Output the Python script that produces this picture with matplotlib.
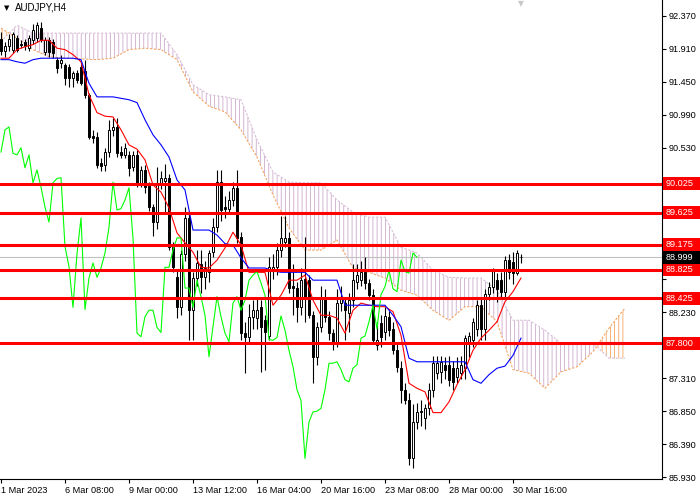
import numpy as np
import matplotlib
matplotlib.use('Agg')
import matplotlib.pyplot as plt
from matplotlib.patches import Rectangle
from matplotlib.transforms import blended_transform_factory

plt.rcParams['font.family'] = ['Liberation Sans', 'DejaVu Sans']
plt.rcParams['hatch.linewidth'] = 0.6

# ---- H4 candles (bar index 0 = 1 Mar 2023) ----
opens = [92.05, 91.88, 91.95, 91.90, 92.06, 91.98, 92.00, 91.92, 92.03, 92.06,
         92.20, 91.87, 92.03, 92.00, 91.76, 91.72, 91.68, 91.66, 91.50, 91.57,
         91.66, 91.60, 91.26, 90.70, 90.68, 90.31, 90.29, 90.47, 90.78, 90.82,
         90.47, 90.43, 90.43, 90.26, 90.43, 90.04, 90.22, 90.00, 89.70, 89.49,
         90.04, 90.06, 90.10, 89.15, 88.72, 88.30, 89.05, 89.55, 88.27, 88.71,
         88.90, 88.72, 88.80, 89.08, 89.42, 90.05, 89.70, 89.68, 89.80, 89.97,
         89.28, 87.94, 87.89, 88.17, 88.15, 88.30, 88.13, 87.90, 88.82, 88.86,
         89.10, 89.22, 89.27, 88.60, 88.57, 88.30, 88.70, 88.68, 88.19, 87.61,
         88.03, 88.45, 88.17, 87.94, 87.82, 88.36, 88.36, 88.22, 88.40, 88.65,
         88.68, 88.80, 88.64, 88.47, 87.78, 88.08, 87.95, 88.17, 88.00, 87.70,
         87.45, 87.15, 87.00, 86.19, 86.70, 86.84, 86.75, 86.89, 87.15, 87.38,
         87.40, 87.49, 87.50, 87.46, 87.33, 87.38, 87.45, 87.80, 87.85, 88.00,
         88.33, 88.00, 88.48, 88.59, 88.68, 88.68, 88.52, 88.96, 88.93, 88.78,
         89.01]
highs = [92.15, 92.00, 92.12, 92.15, 92.10, 92.04, 92.05, 92.10, 92.26, 92.28,
         92.29, 92.08, 92.08, 92.05, 91.80, 91.82, 91.72, 91.70, 91.60, 91.62,
         91.70, 91.76, 91.30, 90.78, 90.75, 90.38, 90.52, 90.92, 90.95, 90.95,
         90.55, 90.60, 90.48, 90.48, 90.50, 90.28, 90.29, 90.05, 89.75, 90.26,
         90.20, 90.30, 90.16, 89.22, 88.83, 89.10, 89.70, 89.62, 88.80, 89.10,
         89.10, 88.95, 89.10, 89.55, 90.22, 90.22, 89.85, 89.92, 90.05, 90.22,
         89.35, 88.10, 88.35, 88.40, 88.45, 88.40, 88.20, 89.00, 89.05, 89.20,
         89.57, 89.57, 89.35, 88.90, 88.65, 88.85, 89.28, 88.75, 88.25, 88.10,
         88.60, 88.55, 88.25, 88.00, 88.55, 88.60, 88.45, 88.50, 88.90, 88.90,
         88.95, 89.00, 88.70, 88.55, 88.10, 88.20, 88.30, 88.25, 88.10, 87.80,
         87.55, 87.25, 87.10, 86.95, 86.97, 87.00, 86.95, 87.25, 87.62, 87.62,
         87.62, 87.60, 87.62, 87.55, 87.60, 87.62, 87.92, 87.95, 88.15, 88.40,
         88.42, 88.55, 88.65, 88.85, 88.78, 88.80, 89.02, 89.05, 89.08, 89.10,
         89.05]
lows = [91.82, 91.80, 91.88, 91.85, 91.86, 91.92, 91.90, 91.88, 91.98, 92.00,
        92.00, 91.82, 91.80, 91.78, 91.58, 91.65, 91.40, 91.38, 91.38, 91.43,
        91.40, 91.22, 90.65, 90.60, 90.25, 90.20, 90.20, 90.40, 90.70, 90.40,
        90.38, 90.38, 90.14, 90.20, 89.98, 89.98, 89.90, 89.65, 89.30, 89.40,
        89.95, 89.60, 89.10, 88.80, 88.15, 88.20, 88.95, 87.84, 87.85, 88.60,
        88.50, 88.55, 88.65, 89.00, 89.35, 89.50, 89.55, 89.60, 89.72, 89.20,
        87.85, 87.38, 87.80, 88.00, 88.00, 87.40, 87.42, 87.85, 88.70, 88.75,
        89.00, 89.15, 88.50, 88.20, 88.10, 88.20, 88.10, 88.15, 87.25, 87.50,
        87.95, 88.10, 87.85, 87.70, 87.75, 88.25, 87.85, 87.95, 88.30, 88.55,
        88.60, 88.55, 88.40, 87.80, 87.70, 87.75, 87.85, 87.90, 87.65, 87.40,
        86.96, 86.95, 86.10, 86.05, 86.60, 86.65, 86.60, 86.80, 87.05, 87.30,
        87.25, 87.30, 87.20, 87.15, 87.25, 87.30, 87.30, 87.60, 87.75, 87.90,
        87.85, 87.85, 88.40, 88.50, 88.38, 88.45, 88.45, 88.70, 88.62, 88.75,
        88.92]
closes = [91.88, 91.95, 92.05, 92.12, 91.90, 91.96, 91.95, 92.06, 92.17, 92.24,
          92.03, 92.03, 91.87, 91.85, 91.64, 91.76, 91.50, 91.50, 91.57, 91.48,
          91.43, 91.26, 90.68, 90.66, 90.29, 90.27, 90.47, 90.78, 90.82, 90.45,
          90.43, 90.53, 90.25, 90.43, 90.04, 90.22, 89.98, 89.70, 89.49, 90.04,
          90.10, 90.11, 89.15, 88.87, 88.30, 89.05, 89.55, 88.27, 88.71, 88.92,
          88.72, 88.85, 89.06, 89.42, 90.05, 89.66, 89.68, 89.80, 89.97, 89.27,
          87.94, 87.89, 88.17, 88.26, 88.26, 88.02, 87.95, 88.86, 88.86, 89.10,
          89.27, 89.27, 88.57, 88.57, 88.30, 88.68, 88.45, 88.19, 87.61, 88.03,
          88.45, 88.17, 87.94, 87.82, 88.36, 88.45, 88.26, 88.40, 88.68, 88.75,
          88.80, 88.64, 88.47, 87.85, 87.84, 87.88, 88.18, 87.98, 87.70, 87.47,
          87.15, 87.00, 86.19, 86.70, 86.84, 86.85, 86.89, 87.15, 87.52, 87.52,
          87.54, 87.43, 87.29, 87.26, 87.45, 87.50, 87.87, 87.90, 88.10, 88.33,
          88.00, 88.48, 88.59, 88.82, 88.56, 88.52, 88.96, 88.80, 88.78, 89.06,
          89.00]

# ---- Ichimoku readings ----
# Tenkan-sen / Kijun-sen read every 2nd bar (bars 0, 2, ..., 130)
tenkan = [91.78, 91.78, 91.90, 91.94, 91.97, 92.03, 92.03, 91.92, 91.90, 91.83,
          91.73, 91.27, 91.02, 90.97, 90.96, 90.78, 90.57, 90.51, 90.36, 90.01,
          89.91, 89.69, 89.34, 89.20, 89.07, 88.86, 88.85, 88.96, 89.13, 89.35,
          89.17, 88.79, 88.79, 88.79, 88.33, 88.47, 88.68, 88.68, 88.75, 88.40,
          88.19, 88.19, 88.15, 87.94, 88.26, 88.36, 88.33, 88.31, 88.31, 88.24,
          87.91, 87.24, 87.17, 87.12, 86.83, 86.83, 86.98, 87.22, 87.43, 87.70,
          87.87, 87.98, 88.10, 88.38, 88.52, 88.71]
kijun = [91.76, 91.76, 91.73, 91.71, 91.76, 91.78, 91.78, 91.78, 91.78, 91.78,
         91.76, 91.43, 91.24, 91.24, 91.24, 91.22, 91.20, 91.16, 90.92, 90.71,
         90.57, 90.40, 90.08, 89.94, 89.38, 89.38, 89.38, 89.31, 89.19, 89.17,
         88.99, 88.85, 88.85, 88.85, 88.81, 88.79, 88.79, 88.79, 88.79, 88.68,
         88.68, 88.68, 88.68, 88.33, 88.33, 88.33, 88.33, 88.33, 88.33, 88.19,
         88.03, 87.59, 87.54, 87.54, 87.54, 87.54, 87.54, 87.54, 87.54, 87.29,
         87.24, 87.36, 87.45, 87.48, 87.63, 87.87]
# Senkou spans read every 4th bar (bars 0, 4, ..., 156, incl. 26 future bars)
span_a = [92.20, 92.06, 91.90, 91.80, 91.78, 91.77, 91.76, 91.78, 91.90, 91.92,
          91.90, 91.76, 91.31, 91.11, 91.03, 90.78, 90.40, 89.87, 89.41, 89.10,
          89.10, 89.24, 88.85, 88.79, 88.71, 88.54, 88.47, 88.26, 88.12, 88.31,
          88.31, 88.10, 87.43, 87.38, 87.17, 87.40, 87.47, 87.68, 88.01, 88.29]
span_b = [92.01, 92.24, 92.13, 92.13, 92.13, 92.13, 92.13, 92.13, 92.13, 92.13,
          92.13, 91.83, 91.41, 91.27, 91.24, 91.20, 90.64, 90.19, 90.05, 90.04,
          90.04, 89.80, 89.63, 89.56, 89.56, 89.14, 89.06, 88.82, 88.72, 88.71,
          88.71, 88.54, 88.12, 88.12, 87.98, 87.80, 87.80, 87.80, 87.59, 87.59]
chikou_shift = 26

levels = [90.025, 89.625, 89.175, 88.825, 88.425, 87.800]
last_price = 88.999

x_tick_bars = [0, 16, 32, 48, 64, 80, 96, 112, 128]
x_tick_labels = ['1 Mar 2023', '6 Mar 08:00', '9 Mar 00:00', '13 Mar 12:00',
                 '16 Mar 04:00', '20 Mar 16:00', '23 Mar 08:00',
                 '28 Mar 00:00', '30 Mar 16:00']
y_ticks = [85.93, 86.39, 86.85, 87.31, 87.77, 88.23, 88.69, 89.15, 89.61,
           90.07, 90.53, 90.99, 91.45, 91.91, 92.37]

# ---- figure ----
W, H = 700, 500
fig = plt.figure(figsize=(7, 5), dpi=100)
ax = fig.add_axes([0, 21 / H, 662 / W, 479 / H])
ax.set_xlim(-0.25, 165.25)
ax.set_ylim(85.903, 92.593)

o = np.array(opens); h = np.array(highs); l = np.array(lows); c = np.array(closes)
x = np.arange(len(c))

# cloud
xs = np.arange(0, 4 * len(span_a), 4)
sa = np.array(span_a); sb = np.array(span_b)
ax.fill_between(xs, sa, sb, where=sa >= sb, interpolate=True, facecolor='none',
                edgecolor='#f4a460', hatch='||||', linewidth=0, zorder=1)
ax.fill_between(xs, sa, sb, where=sb > sa, interpolate=True, facecolor='none',
                edgecolor='#cdaacd', hatch='||||', linewidth=0, zorder=1)
ax.plot(xs, sa, color='#f4a460', lw=0.8, ls=(0, (2, 1.5)), zorder=1.5)
ax.plot(xs, sb, color='#d8bfd8', lw=0.8, ls=(0, (2, 1.5)), zorder=1.5)

# current price line
ax.axhline(last_price, color='#c0c0c0', lw=0.8, zorder=1.6)

# candles
up = c >= o
ax.vlines(x, l, h, color='black', lw=0.8, zorder=3)
body_low = np.minimum(o, c)
body_h = np.maximum(np.abs(c - o), 0.004)
ax.bar(x, body_h, bottom=body_low, width=0.55,
       color=np.where(up, 'white', 'black'), edgecolor='black', linewidth=0.7,
       zorder=4)

# Ichimoku lines
xt = np.arange(0, 2 * len(tenkan), 2)
ax.plot(xt, tenkan, color='#ff0000', lw=0.8, zorder=5)
ax.plot(xt, kijun, color='#0000ff', lw=0.8, zorder=5)
ax.plot(x[:-chikou_shift], c[chikou_shift:], color='#00ff00', lw=0.8, zorder=5)

# horizontal levels
for lv in levels:
    ax.axhline(lv, color='#ff0000', lw=2.2, zorder=6)

# axes styling
for s in ['top', 'left']:
    ax.spines[s].set_visible(False)
ax.spines['right'].set_linewidth(0.8)
ax.spines['bottom'].set_linewidth(0.8)
ax.yaxis.tick_right()
ax.set_yticks(y_ticks)
box_h = 13 / 71.6
tags = levels + [last_price]
ylabels = []
for v in y_ticks:
    hidden = any(abs(v - t) < box_h * 0.75 for t in tags)
    ylabels.append('' if hidden else f'{v:.3f}')
ax.set_yticklabels(ylabels)
ax.tick_params(axis='y', direction='out', length=3, width=0.8, labelsize=6.6, pad=1.5)
ax.set_xticks(x_tick_bars)
ax.set_xticklabels(x_tick_labels)
ax.tick_params(axis='x', direction='out', length=3, width=0.8, labelsize=6.6, pad=2)
plt.setp(ax.get_xticklabels(), ha='left')

# price labels on the right scale
trans = blended_transform_factory(fig.transFigure, ax.transData)
def price_tag(val, fc):
    ax.add_patch(Rectangle((663 / W, val - box_h / 2), 37 / W, box_h,
                           transform=trans, facecolor=fc, edgecolor='none',
                           zorder=10, clip_on=False))
    ax.text(666 / W, val, f'{val:.3f}', transform=trans, ha='left', va='center',
            fontsize=6.6, color='white', zorder=11, clip_on=False)

for lv in levels:
    price_tag(lv, '#ff0000')
price_tag(last_price, 'black')

# title
fig.text(4 / W, 1 - 8 / H, '\u25bc', fontsize=5, va='center', ha='left',
         family='DejaVu Sans')
fig.text(15 / W, 1 - 8 / H, 'AUDJPY,H4', fontsize=7, va='center', ha='left')
fig.text(521 / W, 1 - 4 / H, '\u25bc', fontsize=5.5, va='center', ha='center',
         color='#c8c8c8', family='DejaVu Sans')

fig.savefig('out.png', dpi=100)
